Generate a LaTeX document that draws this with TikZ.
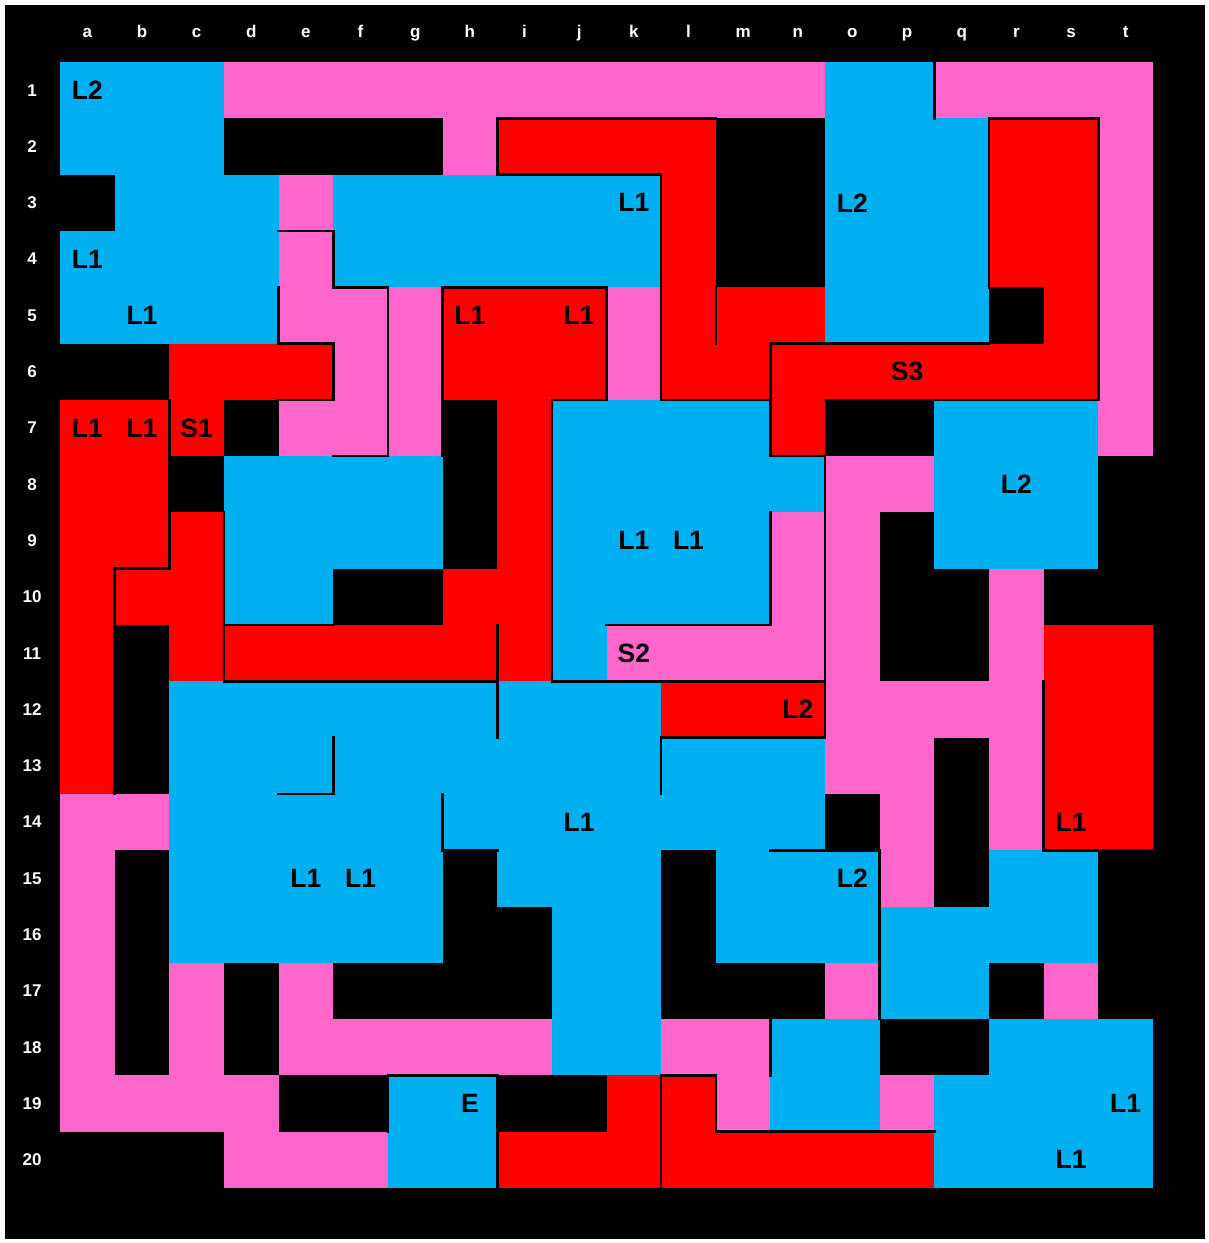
\documentclass[tikz,border=0pt]{standalone}
\usepackage{fontspec}
\setmainfont{Liberation Sans}
\definecolor{mazecyan}{HTML}{00B0F0}
\definecolor{mazepink}{HTML}{FF66CC}
\definecolor{mazered}{HTML}{FF0000}
\begin{document}
\begin{tikzpicture}[x=1pt,y=-1pt,
  wall/.style={line width=2.6pt, black, line cap=rect},
  tag/.style={font=\fontsize{26.5}{30}\selectfont\bfseries, text=black, inner sep=0pt},
  axis/.style={font=\fontsize{17}{20}\selectfont\bfseries, text=white, inner sep=0pt}]
\fill[white] (0,0) rectangle (1209,1243);
\fill[black] (5,5) rectangle (1205,1239);
\begin{scope}[shift={(60,62)},x=54.65pt,y=-56.3pt]
\foreach \r/\a/\b in {1/1/3, 1/15/16, 2/1/3, 2/15/17, 3/2/4, 3/6/11, 3/15/17,
  4/1/4, 4/6/11, 4/15/17, 5/1/4, 5/15/17, 7/10/13, 7/17/19, 8/4/7, 8/10/14, 8/17/19,
  9/4/7, 9/10/13, 9/17/19, 10/4/5, 10/10/13, 11/10/10, 12/3/11, 13/3/14, 14/3/14,
  15/3/7, 15/9/11, 15/13/15, 15/18/19, 16/3/7, 16/10/11, 16/13/19, 17/10/11, 17/16/17,
  18/10/11, 18/14/15, 18/18/20, 19/7/8, 19/14/15, 19/17/20, 20/7/8, 20/17/20}
  \fill[mazecyan] (\a-1,\r-1) rectangle (\b,\r);
\foreach \r/\a/\b in {1/4/14, 1/17/20, 2/8/8, 2/20/20, 3/5/5, 3/20/20, 4/5/5, 4/20/20,
  5/5/7, 5/11/11, 5/20/20, 6/6/7, 6/11/11, 6/20/20, 7/5/7, 7/20/20, 8/15/16, 9/14/15,
  10/14/15, 10/18/18, 11/11/15, 11/18/18, 12/15/18, 13/15/16, 13/18/18, 14/1/2, 14/16/16,
  14/18/18, 15/1/1, 15/16/16, 16/1/1, 17/1/1, 17/3/3, 17/5/5, 17/15/15, 17/19/19,
  18/1/1, 18/3/3, 18/5/9, 18/12/13, 19/1/4, 19/13/13, 19/16/16, 20/4/6}
  \fill[mazepink] (\a-1,\r-1) rectangle (\b,\r);
\foreach \r/\a/\b in {2/9/12, 2/18/19, 3/12/12, 3/18/19, 4/12/12, 4/18/19, 5/8/10,
  5/12/14, 5/19/19, 6/3/5, 6/8/10, 6/12/19, 7/1/3, 7/9/9, 7/14/14, 8/1/2, 8/9/9,
  9/1/3, 9/9/9, 10/1/3, 10/8/9, 11/1/1, 11/3/9, 11/19/20, 12/1/1, 12/12/14, 12/19/20,
  13/1/1, 13/19/20, 14/19/20, 19/11/12, 20/9/16}
  \fill[mazered] (\a-1,\r-1) rectangle (\b,\r);
\foreach \l [count=\i] in {a,...,t}
  \node[axis, anchor=base] (col\l) at (\i-0.5,-0.435) {\l};
\foreach \i in {1,...,20}
  \node[axis] (row\i) at (-0.51,\i-0.5) {\i};
\draw[wall] (16,0) -- (16,1);
\draw[wall] (4,3) -- (5,3) -- (5,4) -- (6,4) -- (6,7) -- (5,7);
\draw[wall] (4,4) -- (4,5) -- (5,5) -- (5,6) -- (4,6);
\draw[wall] (2,6) -- (2,9) -- (1,9) -- (1,13);
\draw[wall] (8,2) -- (8,1) -- (12,1);
\draw[wall] (8,2) -- (11,2) -- (11,6) -- (13,6);
\draw[wall] (14,7) -- (13,7) -- (13,5) -- (17,5);
\draw[wall] (17,4) -- (17,1) -- (19,1) -- (19,6) -- (14,6);
\draw[wall] (12,4) -- (12,5);
\draw[wall] (7,7) -- (7,4) -- (10,4) -- (10,6) -- (9,6) -- (9,11) -- (14,11);
\draw[wall] (3,8) -- (3,11) -- (8,11);
\draw[wall] (3,10) -- (5,10);
\draw[wall] (8,10) -- (8,12);
\draw[wall] (10,10) -- (13,10) -- (13,8);
\draw[wall] (14,7) -- (14,12) -- (11,12) -- (11,13);
\draw[wall] (5,12) -- (5,13) -- (4,13);
\draw[wall] (7,13) -- (7,14) -- (8,14);
\draw[wall] (18,11) -- (18,14) -- (20,14);
\draw[wall] (13,14) -- (15,14) -- (15,17);
\draw[wall] (13,17) -- (13,18);
\draw[wall] (11,20) -- (11,18) -- (12,18) -- (12,19) -- (16,19);
\draw[wall] (8,18) -- (8,20);
\draw[wall] (6,19) -- (6,18) -- (8,18);
\foreach \c/\r/\t in {1/1/L2, 11/3/L1, 15/3/L2, 1/4/L1, 2/5/L1, 8/5/L1, 10/5/L1,
  16/6/S3, 1/7/L1, 2/7/L1, 3/7/S1, 18/8/L2, 11/9/L1, 12/9/L1, 11/11/S2, 14/12/L2,
  10/14/L1, 19/14/L1, 5/15/L1, 6/15/L1, 15/15/L2, 8/19/E, 20/19/L1, 19/20/L1}
  \node[tag] (tag-\c-\r) at (\c-0.5,\r-0.5) {\t};
\end{scope}
\end{tikzpicture}
\end{document}
